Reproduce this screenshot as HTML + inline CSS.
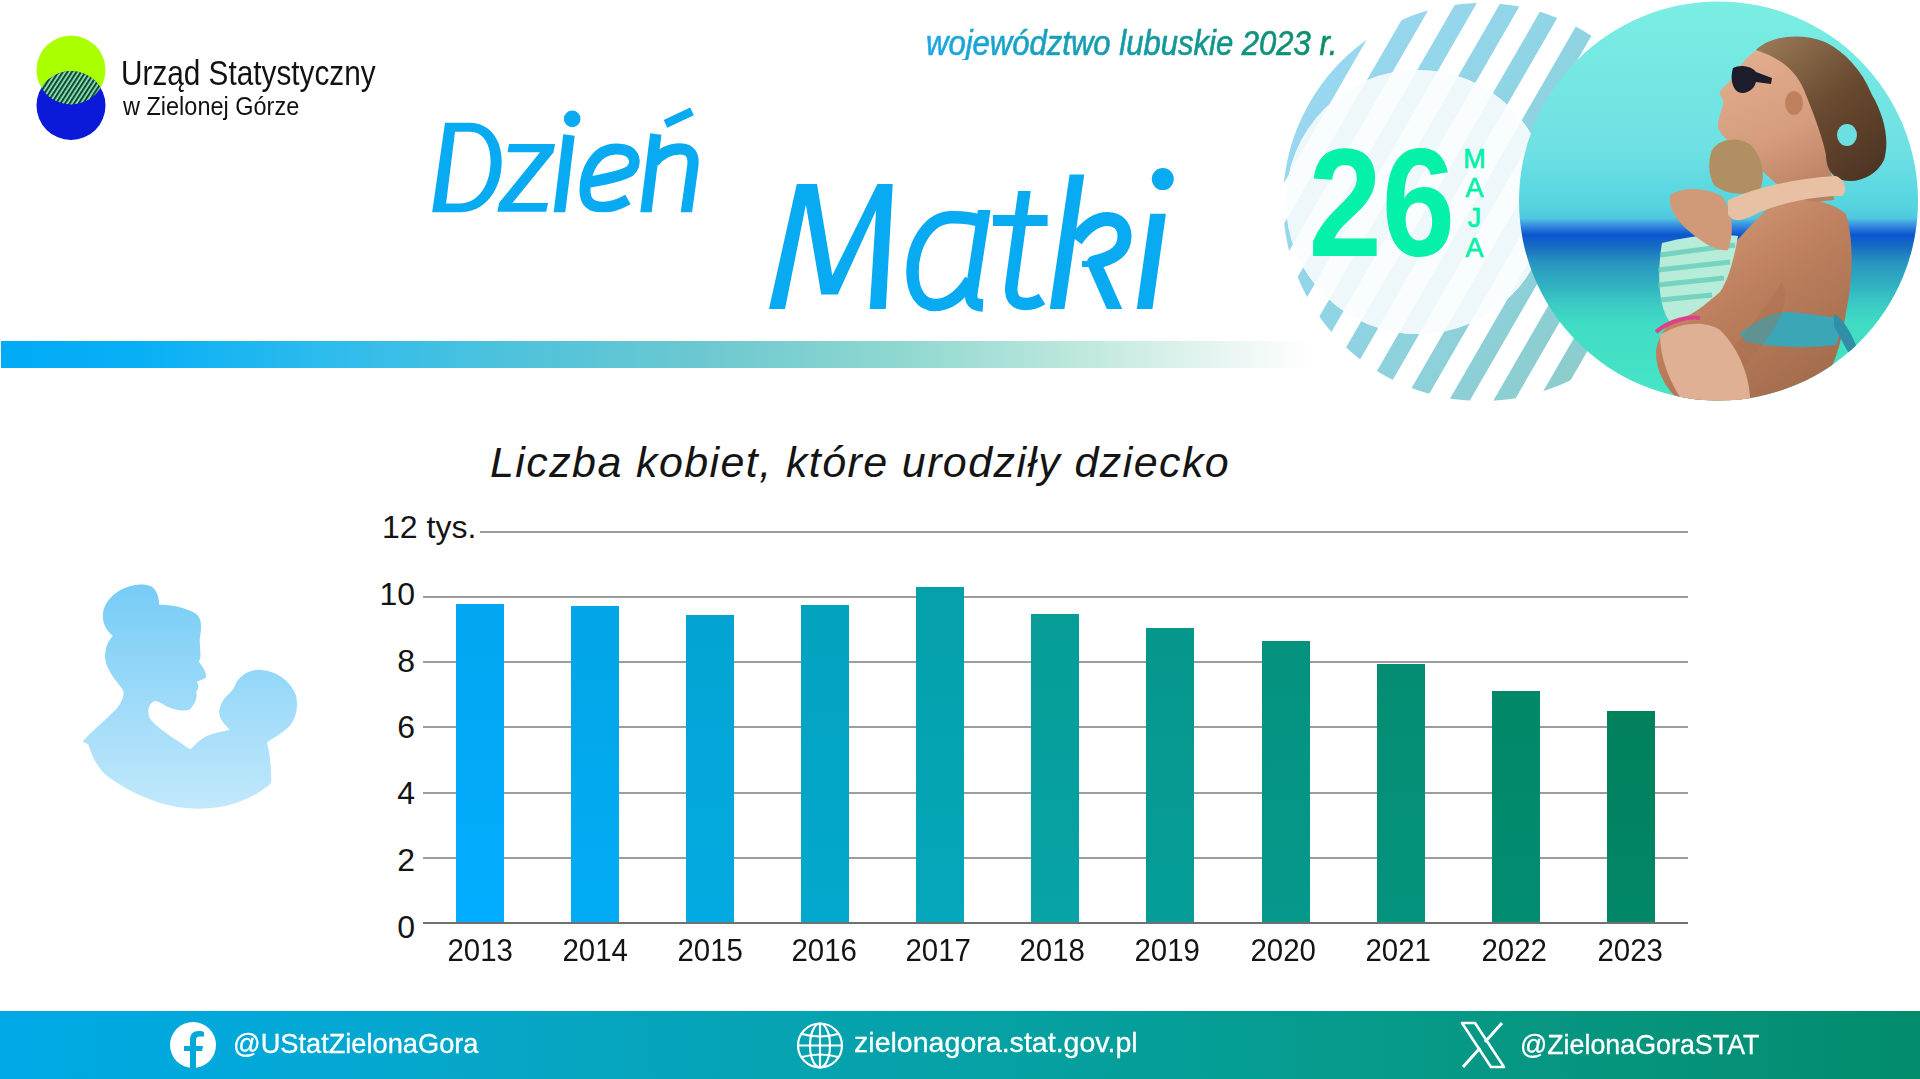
<!DOCTYPE html>
<html><head><meta charset="utf-8">
<style>
html,body{margin:0;padding:0;}
body{width:1920px;height:1079px;position:relative;overflow:hidden;background:#fff;font-family:"Liberation Sans",sans-serif;}
.a{position:absolute;white-space:nowrap;line-height:1;transform-origin:0 0;}
#bar{left:1px;top:341px;width:1310px;height:27px;background:linear-gradient(90deg,#00aaf5 0%,#0ab0f5 11.5%,#30bcec 26%,#4cc2dc 38%,#6cc8d0 53.5%,#90d8d0 69%,#c4eadf 84%,#f0f8f6 95.5%,#ffffff 100%);}
.grid{position:absolute;left:423px;width:1265px;height:2px;background:#9c9c9c;}
.ylab{position:absolute;left:353px;width:62px;text-align:right;font-size:32px;color:#141414;line-height:1;}
.xlab{position:absolute;font-size:32px;color:#141414;line-height:1;width:120px;text-align:center;transform:scaleX(0.92);transform-origin:0 0;}
.b{position:absolute;width:48px;}
#footer{left:0;top:1011px;width:1920px;height:68px;background:linear-gradient(90deg,#00a9e6 0%,#02a8d8 13%,#06a6c6 26%,#05a1a6 50%,#069a88 73%,#05927a 88.5%,#028c6c 100%);}
.ft{position:absolute;color:#fff;font-size:28px;line-height:1;white-space:nowrap;transform-origin:0 0;-webkit-text-stroke:0.3px #fff;}
</style></head>
<body>

<!-- logo -->
<svg class="a" style="left:30px;top:30px" width="82" height="116" viewBox="0 0 82 116">
  <defs>
    <pattern id="hatch" width="3.8" height="10" patternUnits="userSpaceOnUse" patternTransform="rotate(33)">
      <rect width="3.8" height="10" fill="#96e6b4"/>
      <rect width="2.1" height="10" fill="#0b4836"/>
    </pattern>
    <clipPath id="cg"><circle cx="41" cy="40" r="34.5"/></clipPath>
  </defs>
  <circle cx="41" cy="40" r="34.5" fill="#aaff00"/>
  <circle cx="41" cy="75.5" r="34.5" fill="#0a1ad8"/>
  <circle cx="41" cy="75.5" r="34.5" fill="url(#hatch)" clip-path="url(#cg)"/>
</svg>
<div class="a" id="urzad" style="left:121px;top:55px;font-size:35px;color:#111;transform:scaleX(0.85);">Urząd Statystyczny</div>
<div class="a" id="wziel" style="left:123px;top:93px;font-size:26.7px;color:#111;transform:scaleX(0.88);">w Zielonej Górze</div>

<!-- title texts -->
<div class="a" id="woj" style="left:926px;top:25px;font-size:35px;font-style:italic;transform:scaleX(0.887);-webkit-text-stroke:0.7px transparent;background:linear-gradient(90deg,#1ba8e4,#0c8c64);-webkit-background-clip:text;background-clip:text;color:transparent;">województwo lubuskie 2023 r.</div>
<svg class="a" id="titlesvg" style="left:0;top:0" width="1250" height="340" viewBox="0 0 1250 340">
  <defs>
    <clipPath id="clipDz"><rect x="420" y="122.8" width="300" height="89.5"/></clipPath>
    <clipPath id="clipMa">
      <rect x="900" y="210" width="105" height="102"/>
      <rect x="1005" y="191.1" width="42" height="121"/>
      <rect x="1047" y="174.4" width="86" height="134.6"/>
      <rect x="1133" y="213.8" width="50" height="95.2"/>
    </clipPath>
  </defs>
  <g fill="#08aaf2" stroke="none" fill-rule="evenodd">
    <!-- D -->
    <path d="M432.2,212.3 L445,122.8 L469.5,122.8 C490,122.8 501.7,140 501.7,161.2 C501.7,190 485,212.3 460,212.3 Z M446.1,203.4 L455,131.7 L469.5,131.7 C484,131.7 490.6,145 490.6,161 C490.6,185 478,203.4 460,203.4 Z"/>
    <!-- z -->
    <path d="M509,143.9 L555.1,143.9 L553.4,152.6 L512.4,203 L548.1,203 L546.2,211.7 L497.3,211.7 L499.2,202.8 L540,152.3 L507.5,152.3 Z"/>
    <!-- M -->
    <path d="M769,309 L796.8,183.9 L817,183.9 L832.3,275.6 L877.4,183.9 L892.7,183.9 L885.8,309 L869.8,309 L876.1,210.3 L837.8,294.4 L821.2,294.4 L805.9,204.7 L785,309 Z"/>
  </g>
  <g fill="none" stroke="#08aaf2" stroke-linecap="butt" stroke-linejoin="round" clip-path="url(#clipDz)">
    <path d="M569,135 L558.5,220" stroke-width="11.5"/>
    <path d="M590,182 C607,179 622,176 630,171 C637,165 637.5,149 616,149 C596,149 585,170 585,190 C585,203 592,207.2 603,207.2 C612,207.2 620,204 628,199.5" stroke-width="11"/>
    <path d="M655.8,134 L645,220" stroke-width="11.3"/>
    <path d="M654,162 C661,153 670,148.8 680,148.8 C691,148.8 694,156 692.8,166 L685.3,220" stroke-width="11.2"/>
  </g>
  <path d="M665.5,123.8 L692,111.3" stroke="#08aaf2" stroke-width="8.5" fill="none"/>
  <g fill="none" stroke="#08aaf2" stroke-linecap="butt" stroke-linejoin="round" clip-path="url(#clipMa)">
    <path d="M983.5,222 C972,217.5 962,217.3 952,217.3 C928,217.3 912.5,245 912.5,272 C912.5,292 921,305 935,305 C951,305 963,292 970.5,280" stroke-width="12.5"/>
    <path d="M984.5,208 L971.5,292 C970,302 974,305 983,305.5" stroke-width="12.5"/>
    <path d="M1025.8,181 L1011.5,285 C1010,298 1015,304 1026,304 C1033,304 1038,301.5 1042,299" stroke-width="12.5"/>
    <path d="M993,220.5 L1047.6,220.5" stroke-width="11"/>
    <path d="M1078.5,164 L1055.8,318" stroke-width="14.5"/>
    <path d="M1076,240 C1087,225 1098,219 1107.5,219 C1118,219 1124.5,226 1124.5,236 C1124.5,251 1114,258 1094,262.5 L1118.5,318" stroke-width="14"/>
    <path d="M1082,264 L1098,264" stroke-width="6"/>
    <path d="M1159.6,203 L1143.2,319" stroke-width="15.5"/>
  </g>
  <circle cx="572.2" cy="118.9" r="8.3" fill="#08aaf2"/>
  <circle cx="1162.8" cy="179.1" r="11" fill="#08aaf2"/>
</svg>


<div class="a" id="bar"></div>

<!-- decoration -->
<svg class="a" style="left:1260px;top:0" width="660" height="420" viewBox="1260 0 660 420" id="deco">
  <defs>
    <clipPath id="outer"><circle cx="1482" cy="202" r="199"/></clipPath>
    <clipPath id="inner"><circle cx="1418" cy="202" r="132"/></clipPath>
    <clipPath id="photo"><circle cx="1718.5" cy="201" r="199.5"/></clipPath>
    <linearGradient id="sg" x1="1290" y1="80" x2="1620" y2="330" gradientUnits="userSpaceOnUse">
      <stop offset="0" stop-color="#9ad8f2"/>
      <stop offset="0.45" stop-color="#8fd4e4"/>
      <stop offset="1" stop-color="#8ccccc"/>
    </linearGradient>
    <linearGradient id="sky" x1="0" y1="0" x2="0" y2="402" gradientUnits="userSpaceOnUse">
      <stop offset="0.0000" stop-color="#7aeee2"/>
      <stop offset="0.3775" stop-color="#6ee0e3"/>
      <stop offset="0.5075" stop-color="#55d5e0"/>
      <stop offset="0.5425" stop-color="#50c8e0"/>
      <stop offset="0.5595" stop-color="#3a90e0"/>
      <stop offset="0.5845" stop-color="#0a55d0"/>
      <stop offset="0.6175" stop-color="#1a70c0"/>
      <stop offset="0.6545" stop-color="#2896c0"/>
      <stop offset="0.7075" stop-color="#30b0c0"/>
      <stop offset="0.7575" stop-color="#3ccbc4"/>
      <stop offset="0.8075" stop-color="#40dcc4"/>
      <stop offset="1.0000" stop-color="#48e6c8"/>
    </linearGradient>
  </defs>
  <g clip-path="url(#outer)" fill="url(#sg)"><polygon points="1327.0,-5.0 1348.0,-5.0 1108.4,410.0 1087.4,410.0"/><polygon points="1371.5,-5.0 1392.5,-5.0 1152.9,410.0 1131.9,410.0"/><polygon points="1416.0,-5.0 1437.0,-5.0 1197.4,410.0 1176.4,410.0"/><polygon points="1460.5,-5.0 1481.5,-5.0 1241.9,410.0 1220.9,410.0"/><polygon points="1505.0,-5.0 1526.0,-5.0 1286.4,410.0 1265.4,410.0"/><polygon points="1549.5,-5.0 1570.5,-5.0 1330.9,410.0 1309.9,410.0"/><polygon points="1594.0,-5.0 1615.0,-5.0 1375.4,410.0 1354.4,410.0"/><polygon points="1638.5,-5.0 1659.5,-5.0 1419.9,410.0 1398.9,410.0"/><polygon points="1683.0,-5.0 1704.0,-5.0 1464.4,410.0 1443.4,410.0"/><polygon points="1727.5,-5.0 1748.5,-5.0 1508.9,410.0 1487.9,410.0"/><polygon points="1772.0,-5.0 1793.0,-5.0 1553.4,410.0 1532.4,410.0"/><polygon points="1816.5,-5.0 1837.5,-5.0 1597.9,410.0 1576.9,410.0"/></g>
  <circle cx="1418" cy="202" r="132" fill="#fafdfe"/>
  <g clip-path="url(#inner)" fill="#eef8fb"><polygon points="1327.0,-5.0 1348.0,-5.0 1108.4,410.0 1087.4,410.0"/><polygon points="1371.5,-5.0 1392.5,-5.0 1152.9,410.0 1131.9,410.0"/><polygon points="1416.0,-5.0 1437.0,-5.0 1197.4,410.0 1176.4,410.0"/><polygon points="1460.5,-5.0 1481.5,-5.0 1241.9,410.0 1220.9,410.0"/><polygon points="1505.0,-5.0 1526.0,-5.0 1286.4,410.0 1265.4,410.0"/><polygon points="1549.5,-5.0 1570.5,-5.0 1330.9,410.0 1309.9,410.0"/><polygon points="1594.0,-5.0 1615.0,-5.0 1375.4,410.0 1354.4,410.0"/><polygon points="1638.5,-5.0 1659.5,-5.0 1419.9,410.0 1398.9,410.0"/><polygon points="1683.0,-5.0 1704.0,-5.0 1464.4,410.0 1443.4,410.0"/><polygon points="1727.5,-5.0 1748.5,-5.0 1508.9,410.0 1487.9,410.0"/><polygon points="1772.0,-5.0 1793.0,-5.0 1553.4,410.0 1532.4,410.0"/><polygon points="1816.5,-5.0 1837.5,-5.0 1597.9,410.0 1576.9,410.0"/></g>
  <g clip-path="url(#photo)">
    <rect x="1510" y="0" width="420" height="410" fill="url(#sky)"/>
    <defs>
      <linearGradient id="skin1" x1="1700" y1="180" x2="1850" y2="400" gradientUnits="userSpaceOnUse">
        <stop offset="0" stop-color="#d9a282"/>
        <stop offset="0.4" stop-color="#c08260"/>
        <stop offset="1" stop-color="#9a6648"/>
      </linearGradient>
      <linearGradient id="faceg" x1="1730" y1="50" x2="1800" y2="200" gradientUnits="userSpaceOnUse">
        <stop offset="0" stop-color="#e4b090"/>
        <stop offset="0.6" stop-color="#d49c7c"/>
        <stop offset="1" stop-color="#b88060"/>
      </linearGradient>
      <linearGradient id="hairg" x1="1760" y1="40" x2="1880" y2="180" gradientUnits="userSpaceOnUse">
        <stop offset="0" stop-color="#9a7a58"/>
        <stop offset="0.5" stop-color="#6a4a30"/>
        <stop offset="1" stop-color="#4a3222"/>
      </linearGradient>
    </defs>
    <!-- woman body: arm, shoulder, back -->
    <path fill="url(#skin1)" d="M1776,200 C1800,196 1830,200 1846,214 C1854,240 1853,280 1846,312 C1842,340 1836,365 1818,392 L1800,410 L1690,410 C1670,395 1655,375 1656,350 C1660,330 1672,320 1690,300 C1710,270 1740,235 1776,200 Z"/>
    <!-- face/neck -->
    <path fill="url(#faceg)" d="M1765,46 C1750,52 1738,66 1733,78 C1726,86 1718,90 1720,95 C1724,99 1724,103 1722,108 C1720,116 1716,124 1719,130 C1724,140 1740,150 1752,160 C1770,180 1790,198 1815,202 L1834,200 C1832,180 1830,160 1826,140 C1820,118 1814,96 1806,78 C1796,60 1782,48 1765,46 Z"/>
    <!-- hair -->
    <path fill="url(#hairg)" d="M1756,50 C1770,36 1800,32 1825,42 C1845,52 1862,70 1872,95 C1884,115 1890,140 1884,160 C1876,176 1858,184 1842,180 C1830,176 1826,166 1826,155 C1822,135 1812,110 1804,90 C1796,70 1780,58 1756,50 Z"/>
    <ellipse cx="1847" cy="135" rx="10" ry="11" fill="#6cdfe2"/>
    <!-- ear -->
    <ellipse cx="1794" cy="103" rx="9" ry="12" fill="#c0805e"/>
    <!-- sunglasses -->
    <path fill="#1c1c2c" d="M1733,68 C1740,64 1752,66 1756,72 L1772,78 L1771,84 L1756,82 C1754,90 1746,95 1738,92 C1732,88 1730,78 1733,68 Z"/>
    <!-- child hair -->
    <path fill="#b09062" d="M1712,150 C1720,138 1740,136 1752,146 C1762,158 1766,175 1760,190 C1745,196 1725,195 1714,185 C1708,175 1708,160 1712,150 Z"/>
    <!-- child shirt -->
    <path fill="#b6ecd8" d="M1662,243 C1690,236 1715,232 1738,236 C1734,260 1728,280 1720,292 C1705,305 1690,318 1670,322 C1660,310 1656,280 1662,243 Z"/>
    <g stroke="#5cc8b8" stroke-width="5" opacity="0.7">
      <line x1="1660" y1="255" x2="1735" y2="245"/>
      <line x1="1658" y1="270" x2="1730" y2="262"/>
      <line x1="1658" y1="285" x2="1724" y2="278"/>
      <line x1="1660" y1="300" x2="1712" y2="295"/>
    </g>
    <!-- woman hand -->
    <path fill="#d09a78" d="M1670,195 C1685,186 1705,188 1722,196 C1732,210 1735,230 1728,250 C1715,252 1700,240 1690,232 C1678,222 1668,210 1670,195 Z"/>
    <!-- child arm -->
    <path fill="#e8c0a4" d="M1728,200 C1760,186 1800,178 1836,176 C1846,180 1848,192 1842,196 C1820,196 1790,200 1760,212 C1745,220 1735,224 1728,215 Z"/>
    <!-- bikini top -->
    <path fill="#3aa6b6" d="M1740,334 C1755,322 1770,312 1790,312 C1810,314 1825,316 1836,318 C1840,328 1840,338 1836,345 C1810,348 1780,348 1746,342 Z"/>
    <!-- bikini tie -->
    <path fill="#2f8ea8" d="M1834,314 C1842,318 1850,330 1856,345 C1858,352 1856,358 1852,358 C1846,350 1840,336 1834,326 Z"/>
    <!-- arm shading -->
    <path fill="#a86c4c" opacity="0.35" d="M1782,282 C1770,300 1752,325 1736,344 C1720,362 1706,381 1692,400 L1710,410 C1730,385 1750,360 1770,335 C1780,320 1790,300 1782,282 Z"/>
    <!-- child leg -->
    <path fill="#e0b094" d="M1660,335 C1680,322 1705,320 1720,330 C1740,350 1752,380 1750,410 L1690,410 C1672,390 1660,360 1660,335 Z"/>
    <path fill="none" stroke="#e0408a" stroke-width="4" d="M1656,332 C1670,320 1690,316 1700,318"/>

  </g>
  <text x="0" y="0" transform="translate(1308.5,256) scale(0.86,1)" font-family="Liberation Sans" font-weight="bold" font-size="153.4" fill="#05f0a8">26</text>
  <g font-family="Liberation Sans" font-weight="normal" font-size="27" fill="#05f0a8" stroke="#05f0a8" stroke-width="0.7" text-anchor="middle">
    <text x="1474.6" y="167.6">M</text><text x="1474.6" y="196.8">A</text><text x="1474.6" y="226.5">J</text><text x="1474.6" y="256.5">A</text>
  </g>
</svg>

<!-- silhouette placeholder -->
<svg class="a" id="sil" style="left:70px;top:570px" width="240" height="250" viewBox="0 0 1036 1079">
  <defs>
    <linearGradient id="silg" x1="0" y1="0" x2="0" y2="1">
      <stop offset="0" stop-color="#76ccf6"/>
      <stop offset="1" stop-color="#c2e8fb"/>
    </linearGradient>
  </defs>
  <path fill="url(#silg)" d="M185,285 C140,250 120,180 175,120 C220,70 300,50 350,70 C375,85 385,120 385,150 C430,150 500,160 545,190 C575,215 565,260 560,300 C560,340 570,380 555,395 C575,420 595,450 585,465 C570,475 555,478 548,482 C555,495 558,510 545,525 C550,545 545,570 520,600 C500,612 470,608 420,590 C400,578 380,565 365,565 C340,575 330,610 345,640 C370,680 440,720 520,775 C545,750 570,720 610,710 C640,700 670,695 690,690 C670,670 650,650 645,625 C640,600 655,570 670,550 C690,530 705,520 712,500 C720,470 760,435 810,430 C880,430 950,470 975,540 C990,600 970,660 930,690 C900,715 870,730 850,745 C860,780 870,840 868,920 C800,980 700,1030 560,1030 C400,1030 250,960 150,880 C110,840 90,790 80,755 C70,745 60,745 55,740 C90,700 150,650 200,600 C225,570 235,540 230,520 C210,490 170,450 155,400 C145,350 160,310 185,285 Z"/>
</svg>

<!-- chart title -->
<div class="a" id="ctitle" style="left:490px;top:441px;font-size:43px;font-style:italic;color:#141414;letter-spacing:1.4px;">Liczba kobiet, które urodziły dziecko</div>

<!-- grid -->
<div class="grid" style="top:531px;left:480px;width:1208px"></div>
<div class="grid" style="top:596px"></div>
<div class="grid" style="top:661px"></div>
<div class="grid" style="top:726px"></div>
<div class="grid" style="top:792px"></div>
<div class="grid" style="top:857px"></div>
<div class="grid" style="top:922px;background:#707070"></div>

<div class="a" id="y12" style="left:382px;top:511px;font-size:32px;color:#141414;transform:scaleX(1.0);">12 tys.</div>
<div class="ylab" style="top:578px">10</div>
<div class="ylab" style="top:644.5px">8</div>
<div class="ylab" style="top:711px">6</div>
<div class="ylab" style="top:777px">4</div>
<div class="ylab" style="top:844px">2</div>
<div class="ylab" style="top:911px">0</div>


<div class="b" style="left:456px;top:604px;height:318px;background:linear-gradient(rgb(2,166,239),rgb(2,173,255))"></div>
<div class="xlab" style="left:424.8px;top:934px">2013</div>
<div class="b" style="left:571px;top:606px;height:316px;background:linear-gradient(rgb(2,165,229),rgb(2,172,245))"></div>
<div class="xlab" style="left:540.0px;top:934px">2014</div>
<div class="b" style="left:686px;top:615px;height:307px;background:linear-gradient(rgb(3,164,210),rgb(3,170,225))"></div>
<div class="xlab" style="left:655.2px;top:934px">2015</div>
<div class="b" style="left:801px;top:605px;height:317px;background:linear-gradient(rgb(3,162,190),rgb(3,168,206))"></div>
<div class="xlab" style="left:769.0px;top:934px">2016</div>
<div class="b" style="left:916px;top:587px;height:335px;background:linear-gradient(rgb(4,160,170),rgb(4,167,187))"></div>
<div class="xlab" style="left:882.6px;top:934px">2017</div>
<div class="b" style="left:1031px;top:614px;height:308px;background:linear-gradient(rgb(7,156,151),rgb(7,163,167))"></div>
<div class="xlab" style="left:996.8px;top:934px">2018</div>
<div class="b" style="left:1146px;top:628px;height:294px;background:linear-gradient(rgb(6,151,139),rgb(6,157,153))"></div>
<div class="xlab" style="left:1112.0px;top:934px">2019</div>
<div class="b" style="left:1262px;top:641px;height:281px;background:linear-gradient(rgb(5,146,126),rgb(5,152,140))"></div>
<div class="xlab" style="left:1228.0px;top:934px">2020</div>
<div class="b" style="left:1377px;top:664px;height:258px;background:linear-gradient(rgb(4,141,114),rgb(4,147,126))"></div>
<div class="xlab" style="left:1343.3px;top:934px">2021</div>
<div class="b" style="left:1492px;top:691px;height:231px;background:linear-gradient(rgb(2,135,103),rgb(2,140,114))"></div>
<div class="xlab" style="left:1458.8px;top:934px">2022</div>
<div class="b" style="left:1607px;top:711px;height:211px;background:linear-gradient(rgb(1,129,92),rgb(1,134,103))"></div>
<div class="xlab" style="left:1574.6px;top:934px">2023</div>
<div class="a" id="footer"></div>
<svg class="a" style="left:169px;top:1022px" width="48" height="48" viewBox="0 0 48 48">
  <circle cx="24" cy="23" r="23" fill="#fff"/>
  <path d="M21,47 L21,29 L15,29 L15,24 L21,24 L21,18 C21,12 24,9 30,9 C32,9 34,9.5 35,10 L35,14.5 L31,14.5 C28,14.5 27,16 27,18 L27,24 L34,24 L33,29 L27,29 L27,47 Z" fill="#02a8d8"/>
</svg>
<div class="ft" id="ft1" style="left:232.5px;top:1030px;transform:scaleX(0.972);">@UStatZielonaGora</div>
<svg class="a" style="left:796px;top:1022px" width="48" height="48" viewBox="0 0 48 48" fill="none" stroke="#fff" stroke-width="2.2">
  <circle cx="24" cy="23.5" r="22"/>
  <ellipse cx="24" cy="23.5" rx="10" ry="22"/>
  <line x1="24" y1="1.5" x2="24" y2="45.5"/>
  <line x1="2" y1="23.5" x2="46" y2="23.5"/>
  <path d="M6,12 Q24,17 42,12"/>
  <path d="M6,35 Q24,30 42,35"/>
</svg>
<div class="ft" id="ft2" style="left:854px;top:1029px;transform:scaleX(1.02);">zielonagora.stat.gov.pl</div>
<svg class="a" style="left:1460px;top:1021px" width="46" height="48" viewBox="0 0 46 48">
  <path d="M2,2 L15,2 L44,46 L31,46 Z" fill="none" stroke="#fff" stroke-width="2.6" stroke-linejoin="round"/>
  <path d="M42,2 L25,21 M3,46 L20,27" stroke="#fff" stroke-width="3"/>
</svg>
<div class="ft" id="ft3" style="left:1519.5px;top:1031px;transform:scaleX(0.958);">@ZielonaGoraSTAT</div>
</body></html>
